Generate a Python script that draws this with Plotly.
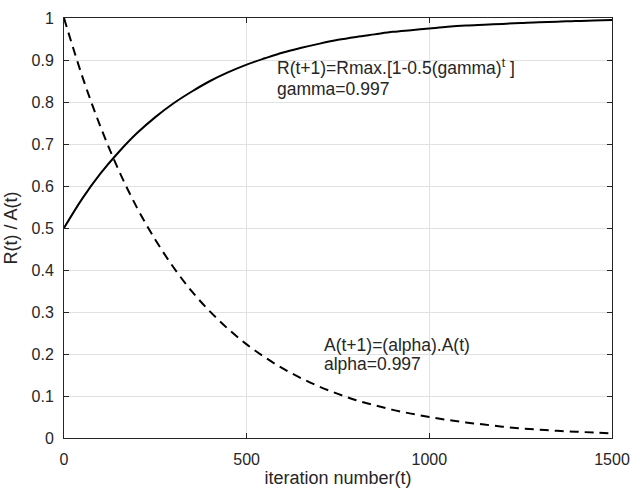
import plotly.graph_objects as go

# iteration numbers (sampled every 50)
t_vals = [0, 50, 100, 150, 200, 250, 300, 350, 400, 450, 500, 550, 600, 650, 700,
          750, 800, 850, 900, 950, 1000, 1050, 1100, 1150, 1200, 1250, 1300, 1350,
          1400, 1450, 1500]
# R(t) curve
r_vals = [0.500, 0.570, 0.630, 0.681, 0.726, 0.764, 0.797, 0.825, 0.850, 0.871,
          0.889, 0.904, 0.918, 0.929, 0.939, 0.948, 0.955, 0.961, 0.967, 0.971,
          0.975, 0.979, 0.982, 0.984, 0.986, 0.988, 0.990, 0.991, 0.993, 0.994, 0.995]
# A(t) curve
a_vals = [1.000, 0.861, 0.741, 0.637, 0.548, 0.472, 0.406, 0.349, 0.301, 0.259,
          0.223, 0.192, 0.165, 0.142, 0.122, 0.105, 0.090, 0.078, 0.067, 0.058,
          0.050, 0.043, 0.037, 0.032, 0.027, 0.023, 0.020, 0.017, 0.015, 0.013, 0.011]

x_ticks = [0, 500, 1000, 1500]
y_ticks = [0, 0.1, 0.2, 0.3, 0.4, 0.5, 0.6, 0.7, 0.8, 0.9, 1]
y_tick_labels = ["0", "0.1", "0.2", "0.3", "0.4", "0.5", "0.6", "0.7", "0.8", "0.9", "1"]

FONT = "Liberation Sans, Arial, sans-serif"
TXT = "#262626"

fig = go.Figure()
fig.add_trace(go.Scatter(x=t_vals, y=r_vals, mode="lines", line_shape="spline",
                         line=dict(color="black", width=2), showlegend=False))
fig.add_trace(go.Scatter(x=t_vals, y=a_vals, mode="lines", line_shape="spline",
                         line=dict(color="black", width=2, dash="9px,6px"), showlegend=False))

ann_font = dict(family=FONT, size=17.5, color=TXT)
fig.add_annotation(x=577, y=0.883, xref="x", yref="y", xanchor="left", yanchor="middle",
                   text="R(t+1)=Rmax.[1-0.5(gamma)<sup>t</sup> ]", showarrow=False,
                   font=ann_font)
fig.add_annotation(x=577, y=0.831, xref="x", yref="y", xanchor="left", yanchor="middle",
                   text="gamma=0.997", showarrow=False, font=ann_font)
fig.add_annotation(x=707, y=0.222, xref="x", yref="y", xanchor="left", yanchor="middle",
                   text="A(t+1)=(alpha).A(t)", showarrow=False, font=ann_font)
fig.add_annotation(x=707, y=0.176, xref="x", yref="y", xanchor="left", yanchor="middle",
                   text="alpha=0.997", showarrow=False, font=ann_font)

axis_common = dict(showline=True, linecolor=TXT, linewidth=1, mirror="ticks",
                   ticks="inside", ticklen=5, tickcolor=TXT, showgrid=True,
                   gridcolor="#e1e1e1", gridwidth=1, zeroline=False,
                   tickfont=dict(family=FONT, size=16, color=TXT))

fig.update_xaxes(range=[0, 1500], tickvals=x_ticks, ticklabelstandoff=7,
                 title=dict(text="iteration number(t)", font=dict(family=FONT, size=18, color=TXT),
                            standoff=4),
                 **axis_common)
fig.update_yaxes(range=[0, 1], tickvals=y_ticks, ticktext=y_tick_labels, ticklabelstandoff=6,
                 title=dict(text="R(t) / A(t)", font=dict(family=FONT, size=18, color=TXT),
                            standoff=9),
                 **axis_common)

fig.update_layout(width=640, height=496, margin=dict(l=63, r=21, t=10, b=58),
                  plot_bgcolor="white", paper_bgcolor="white")

fig.write_html("out.html")
